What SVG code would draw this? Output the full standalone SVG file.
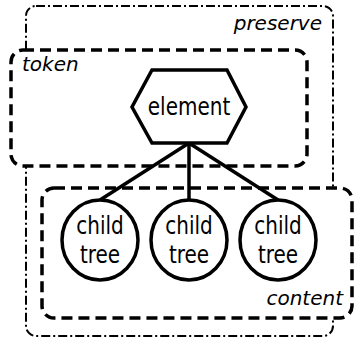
<svg xmlns="http://www.w3.org/2000/svg" width="355" height="346" viewBox="0 0 355 346">
  <style>
    .region { fill: #fff; stroke: #000; }
    .dashdot { stroke-width: 2; stroke-dasharray: 9 3 2 3; }
    .dashed { stroke-width: 3.5; stroke-dasharray: 11 6; }
    .label { font-family: "DejaVu Sans", sans-serif; font-style: italic; font-size: 20px; fill: #000; }
    .node { fill: #fff; stroke: #000; stroke-width: 3.5; }
    .ntext { font-family: "DejaVu Sans", sans-serif; font-size: 20px; fill: #000; text-anchor: middle; }
    .edge { stroke: #000; stroke-width: 3.5; fill: none; }
  </style>

  <!-- regions -->
  <g id="preserve">
    <rect class="region dashdot" x="26" y="6" width="307" height="330" rx="10"/>
    <text class="label" x="322" y="30" text-anchor="end">preserve</text>
  </g>
  <g id="token">
    <rect class="region dashed" x="11" y="50" width="296" height="116" rx="12"/>
    <text class="label" x="22" y="71">token</text>
  </g>
  <g id="content">
    <rect class="region dashed" x="42" y="188" width="310" height="130" rx="12"/>
    <text class="label" x="343" y="305" text-anchor="end">content</text>
  </g>

  <!-- connectors -->
  <g id="edges">
    <line class="edge" x1="189" y1="143" x2="100" y2="200"/>
    <line class="edge" x1="189" y1="143" x2="189" y2="200"/>
    <line class="edge" x1="189" y1="143" x2="278" y2="200"/>
  </g>

  <!-- nodes (labels stretched vertically for a taller face) -->
  <g id="element">
    <polygon class="node" points="152,70 227,70 246,107 227,143 152,143 132,107"/>
    <text class="ntext" transform="translate(189,115) scale(1,1.25)">element</text>
  </g>
  <g id="child1">
    <ellipse class="node" cx="100" cy="240" rx="38" ry="40"/>
    <text class="ntext" transform="translate(100,234) scale(1,1.25)">child</text>
    <text class="ntext" transform="translate(100,263) scale(1,1.25)">tree</text>
  </g>
  <g id="child2">
    <ellipse class="node" cx="189" cy="240" rx="38" ry="40"/>
    <text class="ntext" transform="translate(189,234) scale(1,1.25)">child</text>
    <text class="ntext" transform="translate(189,263) scale(1,1.25)">tree</text>
  </g>
  <g id="child3">
    <ellipse class="node" cx="278" cy="240" rx="38" ry="40"/>
    <text class="ntext" transform="translate(278,234) scale(1,1.25)">child</text>
    <text class="ntext" transform="translate(278,263) scale(1,1.25)">tree</text>
  </g>
</svg>
